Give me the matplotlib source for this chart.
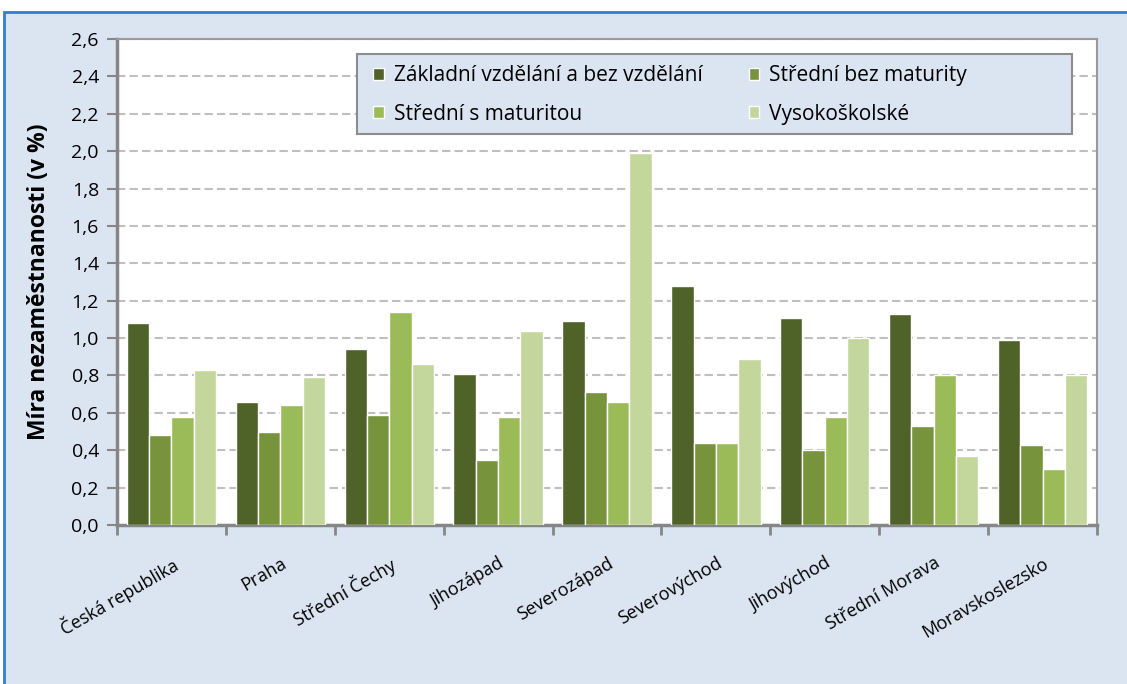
import matplotlib.pyplot as plt
import numpy as np
from matplotlib.patches import Rectangle, Patch

plt.rcParams['font.family'] = ['Open Sans', 'DejaVu Sans']

regiony = ["Česká republika", "Praha", "Střední Čechy", "Jihozápad", "Severozápad",
           "Severovýchod", "Jihovýchod", "Střední Morava", "Moravskoslezsko"]
zakladni = [1.08, 0.66, 0.94, 0.81, 1.09, 1.28, 1.11, 1.13, 0.99]
stredni_bez = [0.48, 0.50, 0.59, 0.35, 0.71, 0.44, 0.40, 0.53, 0.43]
stredni_s = [0.58, 0.64, 1.14, 0.58, 0.66, 0.44, 0.58, 0.80, 0.30]
vysokoskolske = [0.83, 0.79, 0.86, 1.04, 1.99, 0.89, 1.00, 0.37, 0.80]

nazvy = ["Základní vzdělání a bez vzdělání", "Střední bez maturity",
         "Střední s maturitou", "Vysokoškolské"]
barvy = ["#4f6228", "#77933c", "#9bbb59", "#c3d69b"]
yticks = np.arange(0, 2.61, 0.2)

fig = plt.figure(figsize=(11.27, 6.84), dpi=100)
fig.patch.set_facecolor("white")
# modry ramecek s podkladem
fig.patches.append(Rectangle((4 / 1127, -0.1), 1.2, 1.1 - 12 / 684,
                             transform=fig.transFigure, facecolor="#dbe5f1",
                             edgecolor="#2f7fd4", linewidth=2, zorder=-1))

ax = fig.add_axes([117 / 1127, 1 - 525 / 684, 980 / 1127, 486 / 684])
ax.set_facecolor("white")

x = np.arange(len(regiony))
w = 0.205
for i, (data, barva) in enumerate(zip([zakladni, stredni_bez, stredni_s, vysokoskolske], barvy)):
    ax.bar(x + (i - 1.5) * w, data, width=w, color=barva, edgecolor="white",
           linewidth=1, zorder=3)

ax.set_xlim(-0.5, len(regiony) - 0.5)
ax.set_ylim(0, 2.6)
ax.set_yticks(yticks)
ax.set_yticklabels([f"{v:.1f}".replace(".", ",") for v in yticks], fontsize=14)
ax.yaxis.grid(True, linestyle=(0, (4, 2)), color="#bfbfbf", linewidth=1.5, zorder=1)
ax.set_axisbelow(True)

ax.set_xticks(x)
ax.set_xticklabels(regiony, rotation=30, ha="right", va="top",
                   rotation_mode="anchor", fontsize=13)
ax.tick_params(axis="x", which="major", length=0, pad=21)
ax.set_xticks(np.arange(-0.5, len(regiony)), minor=True)
ax.tick_params(axis="x", which="minor", length=7, width=2, color="#868686")
ax.tick_params(axis="y", length=7, width=1.5, color="#868686", pad=6)

for s in ["left", "bottom"]:
    ax.spines[s].set_color("#868686")
    ax.spines[s].set_linewidth(2.5)
for s in ["top", "right"]:
    ax.spines[s].set_color("#9a9a9a")
    ax.spines[s].set_linewidth(1.5)

ax.set_ylabel("Míra nezaměstnanosti (v %)", fontsize=16.5, fontweight="bold", labelpad=15)

# legenda: ramecek zvlast, polozky ve dvou sloupcich
ax.add_patch(Rectangle(((357 - 117) / 980, (525 - 134) / 486), 715 / 980, 80 / 486,
                       transform=ax.transAxes, facecolor="#dbe5f1",
                       edgecolor="#8c8c8c", linewidth=1.5, zorder=5))
handles = [Patch(facecolor=c, edgecolor="white") for c in barvy]
order = [0, 2, 1, 3]
leg = ax.legend([handles[i] for i in order], [nazvy[i] for i in order], ncol=2,
                loc="upper left", bbox_to_anchor=((371 - 117) / 980, (525 - 63) / 486),
                frameon=False, fontsize=15, handlelength=0.5, handleheight=0.5,
                handletextpad=0.5, columnspacing=2.2, labelspacing=0.85,
                borderaxespad=0, borderpad=0.1)
leg.set_zorder(6)

fig.savefig("out.png", dpi=100, facecolor=fig.get_facecolor())
